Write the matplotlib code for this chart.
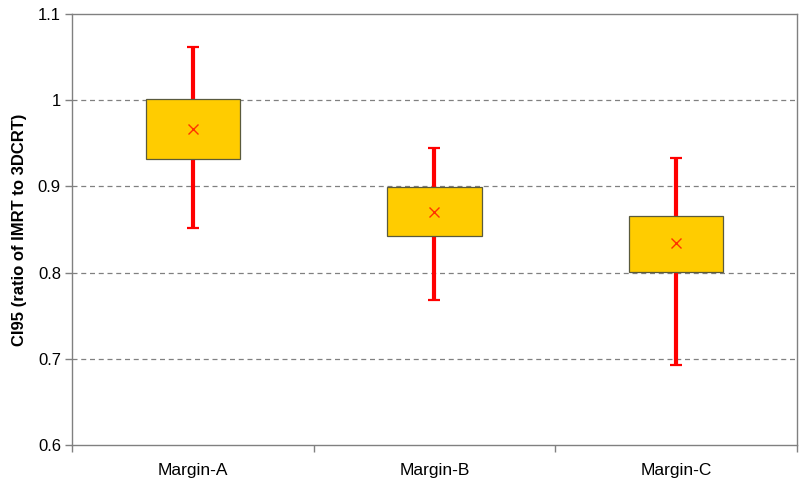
import matplotlib
matplotlib.use("Agg")
import matplotlib.pyplot as plt
import numpy as np

plt.rcParams['font.family'] = ['Liberation Sans', 'DejaVu Sans']

categories = ["Margin-A", "Margin-B", "Margin-C"]
whisker_low = [0.852, 0.768, 0.693]
box_low = [0.932, 0.842, 0.801]
mean_vals = [0.967, 0.870, 0.834]
box_high = [1.001, 0.899, 0.866]
whisker_high = [1.062, 0.945, 0.933]
y_ticks = [0.6, 0.7, 0.8, 0.9, 1.0, 1.1]
y_tick_labels = ["0.6", "0.7", "0.8", "0.9", "1", "1.1"]

fig = plt.figure(figsize=(8.0, 4.84), dpi=100)
ax = fig.add_axes([0.09, 0.0806, 0.906, 0.8905])

x = np.arange(len(categories))
w = 0.39

# whiskers
ax.vlines(x, whisker_low, whisker_high, colors="#FF0000", linewidth=3, zorder=2)
ax.errorbar(x, mean_vals,
            yerr=[np.array(mean_vals) - np.array(whisker_low), np.array(whisker_high) - np.array(mean_vals)],
            fmt="none", ecolor="#FF0000", elinewidth=0, capsize=4.5, capthick=1.6, zorder=2)

# boxes
ax.bar(x, np.array(box_high) - np.array(box_low), bottom=box_low, width=w,
       color="#FFCC00", edgecolor="#5A5A3C", linewidth=0.9, zorder=3)

# means
ax.plot(x, mean_vals, linestyle="none", marker="x", color="#FF3300", markersize=6.5,
        markeredgewidth=1.0, zorder=4)

ax.set_xlim(-0.5, 2.5)
ax.set_ylim(0.6, 1.1)
ax.set_yticks(y_ticks)
ax.set_yticklabels(y_tick_labels, fontsize=12)
ax.set_xticks(x)
ax.set_xticklabels(categories, fontsize=12.5)
ax.tick_params(axis="x", length=0, pad=13)
ax.set_xticks([-0.5, 0.5, 1.5, 2.5], minor=True)
ax.tick_params(axis="x", which="minor", length=5, color="#808080", width=1)
ax.tick_params(axis="y", length=5, color="#808080", width=1, pad=3)

for yv in [0.7, 0.8, 0.9, 1.0]:
    ax.axhline(yv, color="#808080", linestyle=(0, (4, 3)), linewidth=0.9, zorder=1)

for s in ax.spines.values():
    s.set_color("#808080")
    s.set_linewidth(1.0)

ax.set_ylabel("CI95 (ratio of IMRT to 3DCRT)", fontsize=12, fontweight="bold", labelpad=8)

fig.savefig("out.png", dpi=100)
